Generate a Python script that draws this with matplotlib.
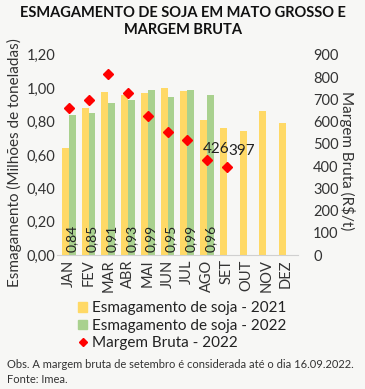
import matplotlib
matplotlib.use("Agg")
import matplotlib.pyplot as plt
import numpy as np
from matplotlib.lines import Line2D
from matplotlib.patches import Patch

months = ["JAN", "FEV", "MAR", "ABR", "MAI", "JUN", "JUL", "AGO", "SET", "OUT", "NOV", "DEZ"]
esm_2021 = [0.64, 0.88, 0.98, 0.96, 0.97, 1.00, 0.985, 0.81, 0.76, 0.745, 0.865, 0.79]
esm_2022 = [0.84, 0.85, 0.91, 0.93, 0.99, 0.95, 0.99, 0.96]
margem_2022 = [660, 696, 813, 727, 624, 552, 516, 426, 397]
left_ticks = ["0,00", "0,20", "0,40", "0,60", "0,80", "1,00", "1,20"]

plt.rcParams['font.family'] = ['Lato', 'DejaVu Sans']
bg = '#f7f7f5'
yellow = '#ffd966'
green = '#a9d18e'
red = '#ff0000'
tc = '#333333'

fig = plt.figure(figsize=(3.65, 3.89), dpi=100, facecolor=bg)
ax = fig.add_axes([0.156, 0.344, 0.66, 0.515])
ax.set_facecolor(bg)
x = np.arange(len(months))
w = 0.35
ax.bar(x - w/2, esm_2021, w, color=yellow, zorder=2)
x22 = x[:len(esm_2022)]
ax.bar(x22 + w/2, esm_2022, w, color=green, zorder=2)
for xi, v in zip(x22, esm_2022):
    ax.text(xi + w/2, 0.02, f"{v:.2f}".replace('.', ','), rotation=90, ha='center', va='bottom',
            fontsize=10, color='#222222', zorder=4)
ax.set_ylim(0, 1.2)
ax.set_xlim(-0.6, 11.6)
ax.set_yticks(np.arange(0, 1.21, 0.2))
ax.set_yticklabels(left_ticks, fontsize=10.5, color=tc)
ax.set_xticks(x)
ax.set_xticklabels(months, rotation=90, fontsize=10.5, color=tc)
ax.tick_params(length=0, pad=3)
ax.tick_params(axis='y', pad=1)
for s in ['top', 'right', 'left']:
    ax.spines[s].set_visible(False)
ax.spines['bottom'].set_color('#d0d0d0')
ax.set_ylabel("Esmagamento (Milhões de toneladas)", fontsize=11, color=tc, labelpad=0)
ax.yaxis.set_label_coords(-0.145, 0.46)

ax2 = ax.twinx()
xm = x[:len(margem_2022)]
ax2.plot(xm, margem_2022, linestyle='none', marker='D', markersize=5, color=red, zorder=5)
ax2.set_ylim(0, 900)
ax2.set_yticks(np.arange(0, 901, 100))
ax2.set_yticklabels([str(v) for v in range(0, 901, 100)], fontsize=10.5, color=tc)
ax2.tick_params(length=0, pad=11)
for s in ['top', 'right', 'left', 'bottom']:
    ax2.spines[s].set_visible(False)
ax2.set_ylabel("Margem Bruta (R$/t)", fontsize=11, color=tc, rotation=270, labelpad=0, va='bottom')
ax2.yaxis.set_label_coords(1.17, 0.47)
offsets = [(-3, 3), (1, 6)]
for xi, v, off in zip(xm[-2:], margem_2022[-2:], offsets):
    ax2.annotate(str(v), (xi, v), xytext=off, textcoords='offset points', fontsize=11,
                 color='#222222', ha='left', va='bottom')

fig.text(0.5, 0.985, "ESMAGAMENTO DE SOJA EM MATO GROSSO E\nMARGEM BRUTA", ha='center', va='top',
         fontsize=10.5, fontweight='bold', color='#111111', linespacing=1.3)

handles = [Patch(color=yellow), Patch(color=green),
           Line2D([], [], linestyle='none', marker='D', markersize=4.5, color=red)]
labels = ["Esmagamento de soja - 2021", "Esmagamento de soja - 2022", "Margem Bruta - 2022"]
fig.legend(handles, labels, loc='upper left', bbox_to_anchor=(0.215, 0.225), frameon=False,
           fontsize=11, handlelength=0.55, handleheight=0.55, handletextpad=0.35, labelspacing=0.2,
           labelcolor='#222222', borderpad=0, borderaxespad=0)

fig.text(0.018, 0.078, "Obs. A margem bruta de setembro é considerada até o dia 16.09.2022.\nFonte: Imea.",
         fontsize=8, color=tc, ha='left', va='top', linespacing=1.45)

fig.savefig("out.png", dpi=100, facecolor=bg)
